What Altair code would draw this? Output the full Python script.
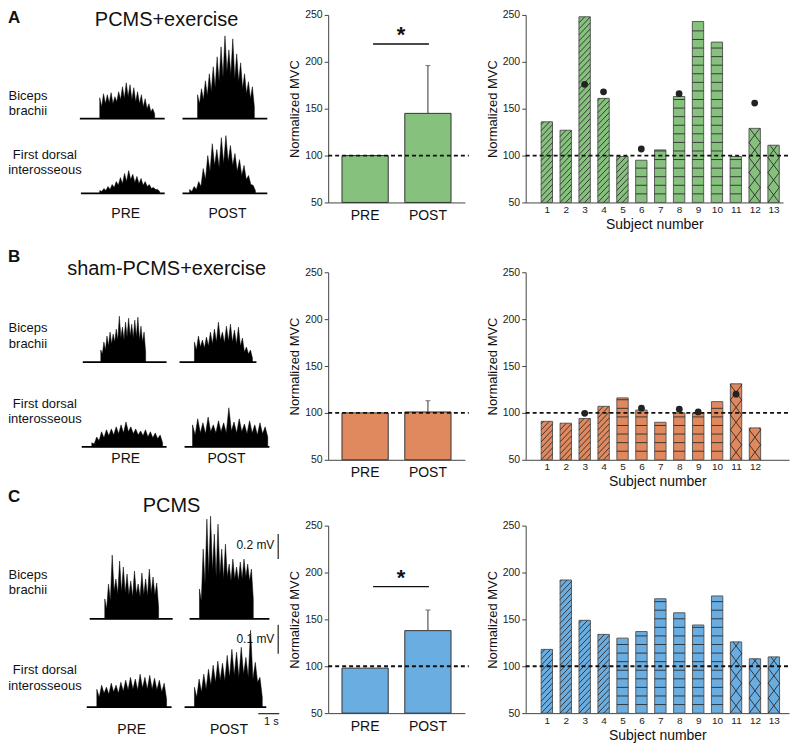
import altair as alt
import pandas as pd
import numpy as np

FONT = "Liberation Sans"
GREEN = "#86c17e"
ORANGE = "#e0895f"
BLUE = "#6aade0"

# ---------------- middle panels: group Normalized MVC ----------------
phases = ["PRE", "POST"]
mean_A = [100, 145]
errtop_A = [100, 196]
mean_B = [100, 101]
errtop_B = [100, 113]
mean_C = [98, 138]
errtop_C = [98, 160]
sig_A = 219
sig_C = 185

# ---------------- right panels: individual subjects ----------------
subjects_A = [1, 2, 3, 4, 5, 6, 7, 8, 9, 10, 11, 12, 13]
mvc_A = [136, 127, 248, 161, 99, 95, 106, 163, 243, 221, 99, 129, 111]
pattern_A = ["diag"] * 5 + ["horiz"] * 6 + ["cross"] * 2
dot_subj_A = [3, 4, 6, 8, 12]
dot_val_A = [176, 168, 107, 166, 156]

subjects_B = [1, 2, 3, 4, 5, 6, 7, 8, 9, 10, 11, 12]
mvc_B = [91, 89, 94, 107, 116, 103, 90, 100, 100, 112, 131, 84]
pattern_B = ["diag"] * 4 + ["horiz"] * 6 + ["cross"] * 2
dot_subj_B = [3, 6, 8, 9, 11]
dot_val_B = [99.5, 105, 104, 101, 120]

subjects_C = [1, 2, 3, 4, 5, 6, 7, 8, 9, 10, 11, 12, 13]
mvc_C = [118, 192, 149, 134, 130, 137, 172, 157, 144, 175, 126, 108, 110]
pattern_C = ["diag"] * 4 + ["horiz"] * 6 + ["cross"] * 3

# ---------------- EMG traces (rectified amplitude, microvolts) ----------------
emg_A_bb_pre = [168, 96, 200, 120, 192, 128, 208, 120, 176, 136, 216, 152, 256, 160, 288, 176, 272, 152, 248, 136, 216, 120, 192, 96, 160, 80, 120, 56, 80, 40]
emg_A_bb_post = [192, 120, 240, 152, 304, 184, 360, 216, 416, 248, 496, 296, 576, 328, 664, 376, 552, 352, 640, 320, 520, 296, 448, 240, 360, 200, 296, 160, 256, 96]
emg_A_fdi_pre = [10, 7, 17, 10, 24, 14, 31, 21, 41, 28, 55, 34, 69, 41, 79, 48, 66, 38, 59, 34, 52, 28, 41, 24, 31, 17, 21, 14, 14, 7]
emg_A_fdi_post = [14, 7, 24, 14, 41, 24, 86, 48, 131, 76, 172, 97, 152, 90, 193, 103, 200, 110, 166, 97, 138, 76, 117, 62, 97, 48, 62, 31, 28, 10]
emg_B_bb_pre = [96, 64, 160, 96, 208, 128, 240, 144, 224, 160, 264, 176, 368, 192, 280, 176, 320, 200, 352, 208, 304, 192, 336, 200, 360, 176, 288, 160, 240, 80]
emg_B_bb_post = [160, 96, 208, 120, 176, 112, 200, 128, 240, 144, 264, 160, 320, 176, 240, 152, 288, 168, 304, 160, 256, 144, 280, 128, 192, 80, 120, 64, 96, 32]
emg_B_fdi_pre = [14, 10, 34, 21, 52, 31, 59, 38, 62, 41, 69, 45, 76, 48, 86, 52, 69, 45, 62, 41, 55, 38, 59, 34, 52, 31, 48, 28, 41, 14]
emg_B_fdi_post = [76, 41, 97, 48, 83, 45, 103, 52, 76, 48, 90, 52, 83, 48, 135, 55, 86, 48, 97, 52, 79, 45, 90, 48, 76, 41, 83, 45, 69, 34]
emg_C_bb_pre = [160, 80, 280, 144, 512, 224, 320, 200, 464, 216, 416, 208, 360, 192, 304, 176, 384, 200, 280, 176, 368, 192, 320, 184, 400, 208, 336, 192, 288, 96]
emg_C_bb_post = [240, 144, 560, 280, 800, 360, 824, 384, 680, 336, 760, 352, 560, 320, 600, 336, 440, 304, 480, 320, 416, 304, 456, 320, 480, 336, 440, 304, 400, 160]
emg_C_fdi_pre = [62, 34, 76, 48, 69, 45, 83, 52, 76, 48, 86, 55, 93, 59, 103, 62, 97, 59, 114, 66, 103, 62, 110, 62, 100, 59, 93, 52, 83, 28]
emg_C_fdi_post = [69, 34, 97, 52, 114, 62, 131, 76, 145, 86, 159, 93, 152, 90, 179, 103, 200, 110, 190, 103, 207, 114, 172, 103, 266, 97, 155, 86, 103, 34]

# burst onset/offset and recording window (s); order: BB PRE, BB POST, FDI PRE, FDI POST
onset_A = [4.38, 9.05, 4.38, 8.67]
offset_A = [7.00, 11.76, 7.24, 11.81]
rec_start_A = [3.43, 8.33, 3.48, 8.33]
rec_end_A = [7.48, 12.38, 7.48, 12.38]
onset_B = [4.43, 8.90, 4.00, 8.81]
offset_B = [6.57, 11.67, 7.38, 12.40]
rec_start_B = [3.57, 8.19, 3.52, 8.43]
rec_end_B = [7.57, 11.86, 7.57, 12.48]
onset_C = [4.62, 9.14, 4.24, 8.90]
offset_C = [7.19, 11.71, 7.57, 12.14]
rec_start_C = [3.90, 8.67, 3.76, 8.43]
rec_end_C = [7.86, 12.48, 7.81, 12.33]

# calibration bars (panel C)
cal_bb_uV = [480, 680]     # 0.2 mV
cal_fdi_uV = [185, 285]    # 0.1 mV
cal_time_s = [11.95, 12.95]  # 1 s
cal_x_s = 12.9

# ---------------- layout constants ----------------
PH = 188           # plot height
TW = 260           # trace panel width
G_BB = 0.125       # px per microvolt, biceps
G_FDI = 0.29       # px per microvolt, FDI
TSCALE = alt.Scale(domain=[0, TW / 21.0], nice=False, zero=False)

yaxis = alt.Axis(values=[50, 100, 150, 200, 250], title="Normalized MVC", titleFontSize=13,
                 labelFontSize=10.5, tickSize=4, labelPadding=2, titlePadding=3)
YS = alt.Scale(domain=[50, 250], nice=False, zero=False)


def txt(s, x, y, size=13, align="center", baseline="middle", weight="normal", color="#111"):
    return alt.Chart(pd.DataFrame({"s": [s]})).mark_text(
        fontSize=size, align=align, baseline=baseline, fontWeight=weight, color=color, font=FONT
    ).encode(x=alt.value(x), y=alt.value(y), text="s:N")


def emg_frame(on, off, amps, name):
    n = len(amps)
    t = [on + i * (off - on) / (n - 1) for i in range(n)]
    return pd.DataFrame({"t": t, "amp": amps, "trace": name})


def muscle_layer(traces, ons, offs, starts, ends, base_px, gain, H, cal=None):
    df = pd.concat([emg_frame(ons[i], offs[i], traces[i], "tr%d" % i) for i in range(len(traces))])
    d0 = (base_px - H) / gain
    ysc = alt.Scale(domain=[d0, d0 + H / gain], nice=False, zero=False)
    base = alt.Chart(pd.DataFrame({"t0": starts, "t1": ends, "z": [0] * len(starts)})).mark_rule(
        color="#000", strokeWidth=1.8).encode(
        x=alt.X("t0:Q", scale=TSCALE, axis=None), x2="t1:Q",
        y=alt.Y("z:Q", scale=ysc, axis=None))
    area = alt.Chart(df).mark_area(color="#000", interpolate="linear", stroke="#000", strokeWidth=0.5).encode(
        x=alt.X("t:Q", scale=TSCALE, axis=None),
        y=alt.Y("amp:Q", scale=ysc, axis=None),
        y2=alt.datum(0), detail="trace:N")
    layers = [base, area]
    if cal is not None:
        layers.append(alt.Chart(pd.DataFrame({"t": [cal_x_s], "lo": [cal[0]], "hi": [cal[1]]})).mark_rule(
            color="#333", strokeWidth=1.3).encode(
            x=alt.X("t:Q", scale=TSCALE, axis=None),
            y=alt.Y("lo:Q", scale=ysc, axis=None), y2="hi:Q"))
    return alt.layer(*layers)


def trace_panel(H, letter, letter_y, title, title_x, title_y, bb, fdi, lab_y, pp_y, pp_x, extra=None):
    layers = [bb, fdi,
              txt(letter, 0, letter_y, 17, align="left", baseline="top", weight="bold"),
              txt(title, title_x, title_y, 20, baseline="top"),
              txt("Biceps", 20, lab_y[0]), txt("brachii", 20, lab_y[1]),
              txt("First dorsal", 37, lab_y[2]), txt("interosseous", 37, lab_y[3]),
              txt("PRE", pp_x[0], pp_y, 14), txt("POST", pp_x[1], pp_y, 14)]
    if extra:
        layers += extra
    return alt.layer(*layers).resolve_scale(y="independent").properties(width=TW, height=H)


def mid_chart(means, errtops, color, sig=None):
    df = pd.DataFrame({"phase": phases, "mvc": means, "top": errtops})
    xsc = alt.Scale(domain=phases, paddingInner=0.264, paddingOuter=0.22)
    xax = alt.Axis(title=None, labelAngle=0, ticks=False, labelFontSize=14, labelPadding=6, labelColor="#111")

    def xe():
        return alt.X("phase:N", scale=xsc, sort=phases, axis=xax)

    bars = alt.Chart(df).mark_bar(color=color, stroke="#333", strokeWidth=1).encode(
        x=xe(), y=alt.Y("mvc:Q", scale=YS, axis=yaxis), y2=alt.datum(50))
    dash = alt.Chart(pd.DataFrame({"v": [100]})).mark_rule(color="#111", strokeDash=[4, 3], strokeWidth=1.8).encode(
        y=alt.Y("v:Q", scale=YS, axis=yaxis), x=alt.value(0), x2=alt.value(141))
    e = df[df["top"] > df["mvc"]]
    err = alt.Chart(e).mark_rule(color="#555", strokeWidth=1.2).encode(
        x=xe(), y=alt.Y("mvc:Q", scale=YS, axis=yaxis), y2="top:Q")
    cap = alt.Chart(e).mark_tick(color="#555", size=5, thickness=1.2).encode(
        x=xe(), y=alt.Y("top:Q", scale=YS, axis=yaxis))
    layers = [bars, dash, err, cap]
    if sig is not None:
        sdf = pd.DataFrame({"v": [sig], "s": ["*"]})
        layers.append(alt.Chart(sdf).mark_rule(color="#111", strokeWidth=1.3).encode(
            y=alt.Y("v:Q", scale=YS, axis=yaxis), x=alt.value(45), x2=alt.value(101)))
        layers.append(alt.Chart(sdf).mark_text(fontSize=22, fontWeight="bold", baseline="alphabetic",
                                               dy=-2, color="#111", font=FONT).encode(
            y=alt.Y("v:Q", scale=YS, axis=yaxis), x=alt.value(73), text="s:N"))
    return alt.layer(*layers).properties(width=137, height=PH)


def hatch_rows(subj, tops, pats, ky):
    rows = []
    for s, top, p in zip(subj, tops, pats):
        xl, xr = s - 0.3, s + 0.3
        if p == "horiz":
            step = 8.6 / ky
            k = 1
            while 50 + k * step < top - 1.0 / ky:
                y = 50 + k * step
                rows.append((xl, xr, y, y))
                k += 1
            continue
        rise, gap = (12.0, 6.0) if p == "diag" else (15.0, 15.0)
        Rv, Gv = rise / ky, gap / ky
        fams = [1] if p == "diag" else [1, -1]
        for f in fams:
            k = -int(np.ceil(Rv / Gv)) - 1
            while True:
                y0 = 50 + k * Gv
                if y0 > top:
                    break
                if f == 1:
                    lo = max(0.0, (50 - y0) / Rv)
                    hi = min(1.0, (top - y0) / Rv)
                    if hi > lo:
                        rows.append((xl + lo * (xr - xl), xl + hi * (xr - xl), y0 + lo * Rv, y0 + hi * Rv))
                else:
                    lo = max(0.0, 1 - (top - y0) / Rv)
                    hi = min(1.0, 1 - (50 - y0) / Rv)
                    if hi > lo:
                        rows.append((xl + lo * (xr - xl), xl + hi * (xr - xl),
                                     y0 + Rv * (1 - lo), y0 + Rv * (1 - hi)))
                k += 1
    return pd.DataFrame(rows, columns=["x", "x2", "y", "y2"])


def right_chart(subj, mvc, pats, dsubj, dval, color, xmax, W, dash_to):
    ky = PH / 200.0
    xsc = alt.Scale(domain=[-0.12, xmax], nice=False, zero=False)
    xax = alt.Axis(values=subj, format="d", title="Subject number", ticks=False,
                   labelFontSize=10, titleFontSize=14, labelPadding=2, titlePadding=3,
                   labelFlush=False)
    df = pd.DataFrame({"s": subj, "mvc": mvc})
    df["x0"] = df["s"] - 0.3
    df["x1"] = df["s"] + 0.3
    bars = alt.Chart(df).mark_bar(color=color, stroke="#5a5a5a", strokeWidth=1).encode(
        x=alt.X("x0:Q", scale=xsc, axis=xax),
        x2="x1:Q", y=alt.Y("mvc:Q", scale=YS, axis=yaxis), y2=alt.datum(50))
    hatch = alt.Chart(hatch_rows(subj, mvc, pats, ky)).mark_rule(color="#262626", strokeWidth=0.85).encode(
        x=alt.X("x:Q", scale=xsc, axis=xax), x2="x2:Q",
        y=alt.Y("y:Q", scale=YS, axis=yaxis), y2="y2:Q")
    dash = alt.Chart(pd.DataFrame({"v": [100]})).mark_rule(color="#111", strokeDash=[4, 3], strokeWidth=1.8).encode(
        y=alt.Y("v:Q", scale=YS, axis=yaxis), x=alt.value(0), x2=alt.value(dash_to))
    layers = [bars, hatch, dash]
    if dsubj:
        layers.append(alt.Chart(pd.DataFrame({"s": dsubj, "v": dval})).mark_point(
            filled=True, size=46, color="#222", opacity=1).encode(
            x=alt.X("s:Q", scale=xsc, axis=xax), y=alt.Y("v:Q", scale=YS, axis=yaxis)))
    return alt.layer(*layers).properties(width=W, height=PH)


# ---------------- row A ----------------
HA = 192
bbA = muscle_layer([emg_A_bb_pre, emg_A_bb_post], onset_A[:2], offset_A[:2], rec_start_A[:2], rec_end_A[:2], 104, G_BB, HA)
fdiA = muscle_layer([emg_A_fdi_pre, emg_A_fdi_post], onset_A[2:], offset_A[2:], rec_start_A[2:], rec_end_A[2:], 179, G_FDI, HA)
tA = trace_panel(HA, "A", -5, "PCMS+exercise", 159, -5, bbA, fdiA, [81, 96, 140, 155], 200, [118, 220])
mA = mid_chart(mean_A, errtop_A, GREEN, sig_A)
rA = right_chart(subjects_A, mvc_A, pattern_A, dot_subj_A, dot_val_A, GREEN, 13.5, 258, 266)

# ---------------- row B ----------------
HB = PH
bbB = muscle_layer([emg_B_bb_pre, emg_B_bb_post], onset_B[:2], offset_B[:2], rec_start_B[:2], rec_end_B[:2], 90, G_BB, HB)
fdiB = muscle_layer([emg_B_fdi_pre, emg_B_fdi_post], onset_B[2:], offset_B[2:], rec_start_B[2:], rec_end_B[2:], 175, G_FDI, HB)
tB = trace_panel(HB, "B", -23, "sham-PCMS+exercise", 159, -13, bbB, fdiB, [56, 72, 132, 147], 187, [118, 219])
mB = mid_chart(mean_B, errtop_B, ORANGE)
rB = right_chart(subjects_B, mvc_B, pattern_B, dot_subj_B, dot_val_B, ORANGE, 13.8, 264, 266)

# ---------------- row C ----------------
HC = PH
bbC = muscle_layer([emg_C_bb_pre, emg_C_bb_post], onset_C[:2], offset_C[:2], rec_start_C[:2], rec_end_C[:2], 93.5, G_BB, HC, cal=cal_bb_uV)
fdiC = muscle_layer([emg_C_fdi_pre, emg_C_fdi_post], onset_C[2:], offset_C[2:], rec_start_C[2:], rec_end_C[2:], 182, G_FDI, HC, cal=cal_fdi_uV)
time_bar = alt.Chart(pd.DataFrame({"t0": [cal_time_s[0]], "t1": [cal_time_s[1]]})).mark_rule(
    color="#333", strokeWidth=1.3).encode(x=alt.X("t0:Q", scale=TSCALE, axis=None), x2="t1:Q", y=alt.value(188.5))
extraC = [time_bar,
          txt("0.2 mV", 267, 19.5, 12, align="right"),
          txt("0.1 mV", 267, 113.5, 12, align="right"),
          txt("1 s", 264, 196.5, 11)]
tC = trace_panel(HC, "C", -37, "PCMS", 164, -30, bbC, fdiC, [49.5, 64.5, 144.5, 160.5], 204.5, [124, 221.5], extraC)
mC = mid_chart(mean_C, errtop_C, BLUE, sig_C)
rC = right_chart(subjects_C, mvc_C, pattern_C, [], [], BLUE, 13.8, 264, 266)

chart = alt.concat(
    tA, mA, rA, tB, mB, rB, tC, mC, rC,
    columns=3, spacing={"row": 66, "column": 61}, bounds="flush", padding=0, background="white"
).configure_view(stroke=None).configure_axis(
    labelFont=FONT, titleFont=FONT, grid=False, domainColor="#444", tickColor="#444",
    labelColor="#222", titleColor="#111", titleFontWeight="normal", domainWidth=1
)

chart.save("out.html", embed_options={"renderer": "svg", "actions": False})
